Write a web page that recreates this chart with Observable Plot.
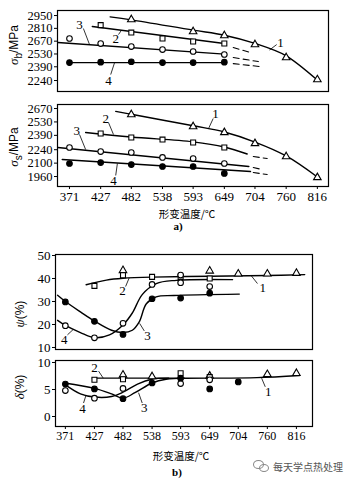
<!DOCTYPE html>
<html><head><meta charset="utf-8">
<script src="https://cdn.jsdelivr.net/npm/d3@7"></script>
<script src="https://cdn.jsdelivr.net/npm/@observablehq/plot@0.6"></script>
<style>
html,body{margin:0;padding:0;background:#fff;}
#wrap{position:relative;width:355px;height:483px;overflow:hidden;background:#fff;}
#wrap svg{position:absolute;left:0;}
.lab{position:absolute;font-family:"Liberation Sans",sans-serif;font-size:12px;white-space:nowrap;transform:translate(-50%,-50%) rotate(-90deg);color:#000;}
.lab i{font-family:"Liberation Serif",serif;font-size:13px;}
.cap{position:absolute;transform:translate(-50%,-50%);font-family:"Noto Sans CJK SC",sans-serif;font-size:10.5px;white-space:nowrap;color:#000;}
.sub{position:absolute;transform:translate(-50%,-50%);font-family:"Liberation Serif",serif;font-weight:bold;font-size:11px;color:#000;}
.wm{position:absolute;transform:translate(0,-50%);font-family:"Noto Sans CJK SC",sans-serif;font-size:10px;color:#555;white-space:nowrap;}
.bub{position:absolute;border:1px solid #888;border-radius:50%;}
</style></head><body><div id="wrap"></div>
<script>
// x tick labels (temperatures, °C)
const temps = [371,427,482,538,593,649,704,760,816];
const sbTicks = [2240,2390,2530,2670,2810,2950];
const ssTicks = [1960,2100,2240,2390,2530,2670];
const psiTicks = [10,20,30,40,50];
const delTicks = [0,5,10];

// sigma_b (MPa)
const sbTri = [[482,2906],[593,2775],[649,2731],[704,2633],[760,2491],[816,2250]];
const sbSq = [[427,2845],[482,2764],[538,2699],[593,2666],[649,2644]];
const sbOpen = [[371,2699],[427,2644],[482,2611],[538,2578],[593,2557],[649,2524]];
const sbFill = [[371,2436],[427,2440],[482,2445],[538,2436],[593,2436],[649,2440]];
const sbLine1 = [[444,2935],[482,2903],[593,2790],[649,2735],[704,2645],[760,2510],[816,2245]];
const sbLine2 = [[412,2830],[649,2644]];
const sbDash2 = [[665,2600],[696,2546]];
const sbLine3 = [[350,2655],[649,2528]];
const sbDash3 = [[665,2491],[710,2447]];
const sbLine4 = [[371,2436],[649,2436]];
const sbDash4 = [[665,2425],[712,2393]];
const sbNotes = [
  {t:"1", x:750, y:2655, x1:743, y1:2633, x2:730, y2:2573},
  {t:"2", x:454, y:2699, x1:459, y1:2742, x2:464, y2:2786},
  {t:"3", x:389, y:2852, x1:396, y1:2808, x2:407, y2:2633},
  {t:"4", x:441, y:2240, x1:445, y1:2305, x2:452, y2:2436}];

// sigma_s (MPa)
const ssTri = [[482,2607],[593,2482],[649,2420],[704,2305],[760,2169],[816,1950]];
const ssSq = [[427,2409],[482,2367],[538,2346],[593,2315],[649,2263]];
const ssOpen = [[371,2263],[427,2221],[482,2211],[538,2159],[593,2148],[649,2096]];
const ssFill = [[371,2096],[427,2106],[482,2085],[538,2065],[593,2065],[649,1992]];
const ssLine1 = [[454,2640],[482,2610],[593,2490],[649,2425],[704,2320],[760,2175],[816,1955]];
const ssLine2 = [[400,2420],[482,2372],[593,2322],[649,2268],[690,2195]];
const ssDash2 = [[701,2169],[726,2148]];
const ssLine3 = [[350,2263],[693,2065]];
const ssDash3 = [[701,2054],[717,2033]];
const ssLine4 = [[358,2138],[696,2013]];
const ssDash4 = [[701,2002],[726,1981]];
const ssNotes = [
  {t:"1", x:633, y:2618, x1:629, y1:2566, x2:621, y2:2465},
  {t:"2", x:436, y:2566, x1:441, y1:2524, x2:450, y2:2399},
  {t:"3", x:384, y:2440, x1:389, y1:2399, x2:400, y2:2242},
  {t:"4", x:450, y:1919, x1:454, y1:1971, x2:457, y2:2096}];

// psi (%)
const psTri = [[482,43.5],[649,43.3],[704,42],[760,42],[816,42.3]];
const psSq = [[427,36.8],[482,41.4],[538,40.7],[593,40.7],[649,40]];
const psOpen = [[371,19.5],[427,14.2],[482,20.5],[538,37.4],[593,41.5],[593,38.2],[649,36.5]];
const psFill = [[371,29.8],[427,21.4],[482,15.7],[538,31.2],[593,31.5],[649,33.6]];
const psLine2 = [[411,37.3],[450,39.3],[482,40.1],[538,40.6]];
const psLine1 = [[538,40.6],[649,41],[760,41.3],[832,41.7]];
const psCurve4 = [[356,21.8],[371,19.6],[400,16.5],[427,14.3],[456,15.5],[482,19.8],[500,25],[519,33],[546,37.8],[585,39.2],[693,39.5]];
const psCurve3 = [[356,32.7],[371,30],[400,25.5],[427,21.5],[460,17.5],[482,16.5],[500,17.5],[513,21],[527,29],[546,32],[580,32.6],[706,33.2]];
const psNotes = [
  {t:"1", x:751, y:36.1, x1:741, y1:37.8, x2:729, y2:41.2},
  {t:"2", x:481, y:34.8, x1:487, y1:36.5, x2:494, y2:40.3},
  {t:"3", x:529, y:15, x1:523, y1:17.2, x2:514, y2:20.5},
  {t:"4", x:369, y:13.4, x1:375, y1:15.5, x2:386, y2:17.8}];

// delta (%)
const dTri = [[482,7.7],[538,7.4],[649,7.5],[760,7.8],[816,8.0]];
const dSq = [[427,6.8],[482,6.9],[593,8.0],[649,7.3]];
const dOpen = [[371,4.8],[427,3.4],[482,5.2],[593,6.1],[649,6.8]];
const dFill = [[371,6.0],[427,5.1],[482,3.3],[538,6.2],[593,7.1],[649,5.1],[704,6.4]];
const dLine2 = [[423,7.1],[538,7.1]];
const dLine1 = [[538,7.1],[649,7.1],[740,7.2],[822,7.6]];
const dCurve4 = [[369,6.0],[400,4.2],[427,3.6],[460,3.7],[482,4.5],[510,6.0],[538,6.9],[570,7.1]];
const dCurve3 = [[369,6.2],[427,5.2],[460,4.2],[482,3.4],[505,4.4],[538,6.2],[565,6.9],[600,7.1]];
const dNotes = [
  {t:"1", x:762, y:4.5, x1:756, y1:5.5, x2:749, y2:7.1},
  {t:"2", x:427, y:9.1, x1:435, y1:8.4, x2:444, y2:7.1},
  {t:"3", x:523, y:1.6, x1:519, y1:2.5, x2:512, y2:4.4},
  {t:"4", x:404, y:1.5, x1:406, y1:2.5, x2:411, y2:4.0}];

const X = d => d[0], Y = d => d[1];
const wrap = document.getElementById("wrap");
const plain = d => String(d);

function panel(cfg) {
  const marks = [];
  for (const l of cfg.lines) {
    const o = {x: X, y: Y, stroke: "#000", strokeWidth: l.dash ? 1.1 : 1.4, curve: "catmull-rom"};
    if (l.dash) o.strokeDasharray = "6,4";
    marks.push(Plot.line(l.pts, o));
  }
  marks.push(Plot.link(cfg.notes, {x1: "x1", y1: "y1", x2: "x2", y2: "y2", stroke: "#000", strokeWidth: 0.8}));
  marks.push(Plot.text(cfg.notes, {x: "x", y: "y", text: "t", fontSize: 13, fontFamily: "Liberation Serif", fill: "#000"}));
  for (const s of cfg.dots) {
    marks.push(Plot.dot(s.pts, {x: X, y: Y, symbol: s.symbol, r: 2.8, fill: s.fill, stroke: "#000", strokeWidth: 1.1}));
  }
  marks.push(Plot.frame({stroke: "#000", strokeWidth: 1.2}));
  marks.push(Plot.axisY(cfg.yTicks, {tickSize: 3, tickPadding: 2, fontSize: cfg.yFont, tickFormat: plain, label: null, stroke: "#000", fill: "#000"}));
  if (cfg.showX) marks.push(Plot.axisX(temps, {tickSize: 3, tickPadding: 2, fontSize: cfg.xFont, tickFormat: plain, label: null, stroke: "#000", fill: "#000"}));
  const svg = Plot.plot({
    width: 355, height: cfg.height,
    marginTop: cfg.mt, marginBottom: cfg.mb, marginLeft: cfg.ml, marginRight: cfg.mr,
    x: {type: "linear", domain: cfg.xDomain, axis: cfg.showX ? undefined : null},
    y: {type: "linear", domain: cfg.yDomain},
    style: {fontFamily: "Liberation Serif", background: "transparent", color: "#000", overflow: "visible"},
    marks
  });
  svg.style.top = cfg.top + "px";
  wrap.appendChild(svg);
}

const dotsFor = (tri, sq, open, fill) => [
  {pts: tri, symbol: "triangle", fill: "#fff"},
  {pts: sq, symbol: "square", fill: "#fff"},
  {pts: open, symbol: "circle", fill: "#fff"},
  {pts: fill, symbol: "circle", fill: "#000"}];

panel({top: 0, height: 95, mt: 10, mb: 4, ml: 57, mr: 27, xDomain: [349.5, 836], yDomain: [2120, 3005],
  yTicks: sbTicks, yFont: 12.5, showX: false,
  lines: [{pts: sbLine1}, {pts: sbLine2}, {pts: sbDash2, dash: true}, {pts: sbLine3}, {pts: sbDash3, dash: true}, {pts: sbLine4}, {pts: sbDash4, dash: true}],
  dots: dotsFor(sbTri, sbSq, sbOpen, sbFill), notes: sbNotes});

panel({top: 95, height: 110, mt: 9, mb: 19, ml: 57, mr: 27, xDomain: [349.5, 836], yDomain: [1856, 2712],
  yTicks: ssTicks, yFont: 12.5, showX: true, xFont: 13,
  lines: [{pts: ssLine1}, {pts: ssLine2}, {pts: ssDash2, dash: true}, {pts: ssLine3}, {pts: ssDash3, dash: true}, {pts: ssLine4}, {pts: ssDash4, dash: true}],
  dots: dotsFor(ssTri, ssSq, ssOpen, ssFill), notes: ssNotes});

panel({top: 245, height: 110, mt: 9, mb: 6, ml: 55, mr: 43, xDomain: [352, 847], yDomain: [9.13, 50.43],
  yTicks: psiTicks, yFont: 13, showX: false,
  lines: [{pts: psLine2}, {pts: psLine1}, {pts: psCurve4}, {pts: psCurve3}],
  dots: dotsFor(psTri, psSq, psOpen, psFill), notes: psNotes});

panel({top: 355, height: 90, mt: 5, mb: 19, ml: 55, mr: 43, xDomain: [352, 847], yDomain: [-1.85, 10.37],
  yTicks: delTicks, yFont: 13, showX: true, xFont: 12,
  lines: [{pts: dLine2}, {pts: dLine1}, {pts: dCurve4}, {pts: dCurve3}],
  dots: dotsFor(dTri, dSq, dOpen, dFill), notes: dNotes});

function addDiv(cls, html, x, y) {
  const d = document.createElement("div");
  d.className = cls; d.innerHTML = html;
  d.style.left = x + "px"; d.style.top = y + "px";
  wrap.appendChild(d);
  return d;
}
addDiv("lab", "<i>σ</i><sub>b</sub>/MPa", 15, 45);
addDiv("lab", "<i>σ</i><sub>s</sub>/MPa", 15, 147);
addDiv("lab", "<i>ψ</i>(%)", 20, 314);
addDiv("lab", "<i>δ</i>(%)", 20, 387);
addDiv("cap", "形变温度/℃", 187, 213);
addDiv("sub", "a)", 178, 226);
addDiv("cap", "形变温度/℃", 181, 455);
addDiv("sub", "b)", 177, 472);
const b1 = addDiv("bub", "", 253, 460); b1.style.width = "9px"; b1.style.height = "7px";
const b2 = addDiv("bub", "", 259, 464); b2.style.width = "8px"; b2.style.height = "6px";
addDiv("wm", "每天学点热处理", 273, 466);
</script></body></html>
